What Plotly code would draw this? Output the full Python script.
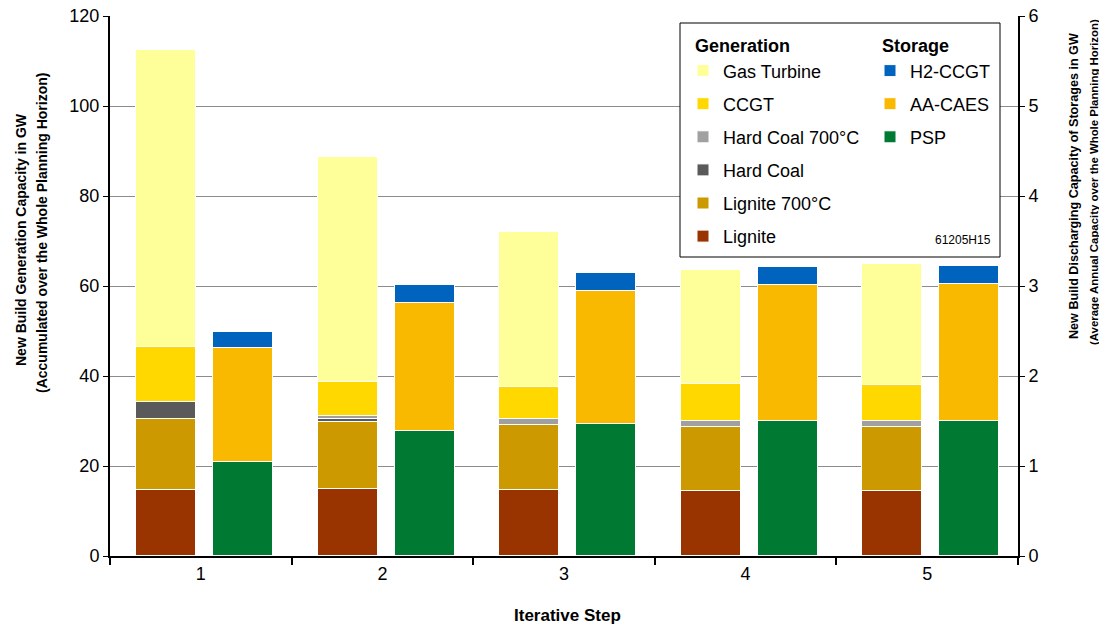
import plotly.graph_objects as go

steps = [1, 2, 3, 4, 5]

# Generation (left axis, GW)
lignite = [14.7, 14.9, 14.7, 14.5, 14.4]
lignite700 = [15.7, 14.8, 14.4, 14.2, 14.2]
hard_coal = [3.9, 0.7, None, None, None]
hard_coal700 = [None, 0.7, 1.3, 1.3, 1.3]
ccgt = [12.1, 7.5, 7.2, 8.2, 8.0]
gas_turbine = [66.0, 50.1, 34.4, 25.4, 27.0]

# Storage (right axis, GW)
psp = [1.05, 1.39, 1.47, 1.50, 1.50]
aa_caes = [1.26, 1.42, 1.48, 1.51, 1.52]
h2_ccgt = [0.18, 0.20, 0.20, 0.20, 0.20]

FONT = "Arial, Liberation Sans, sans-serif"

# (name, values, colour, legend rank)
gen_series = [
    ("Lignite", lignite, "#993300", 6),
    ("Lignite 700°C", lignite700, "#CC9900", 5),
    ("Hard Coal", hard_coal, "#5A5A5A", 4),
    ("Hard Coal 700°C", hard_coal700, "#A0A0A0", 3),
    ("CCGT", ccgt, "#FFD800", 2),
    ("Gas Turbine", gas_turbine, "#FFFF99", 1),
]
sto_series = [
    ("PSP", psp, "#007A33", 3),
    ("AA-CAES", aa_caes, "#F9B900", 2),
    ("H2-CCGT", h2_ccgt, "#0063BE", 1),
]

fig = go.Figure()
for name, vals, col, rank in gen_series:
    fig.add_trace(go.Bar(
        x=steps, y=vals, name=name, width=0.33, offset=-0.357,
        marker=dict(color=col, line=dict(color="white", width=1)),
        legend="legend", legendgroup=name, legendrank=rank, yaxis="y"))
for name, vals, col, rank in sto_series:
    fig.add_trace(go.Bar(
        x=steps, y=vals, name=name, width=0.33, offset=0.067,
        marker=dict(color=col, line=dict(color="white", width=1)),
        legend="legend2", legendgroup=name, legendrank=rank, yaxis="y2"))

# page body adds an 8px offset; figure is sized to fill the rest of the window
BODY = 8
FIG_W, FIG_H = 1107 - BODY, 628 - BODY
W0, W1, H0, H1 = 110, 1018, 16, 556  # plot area in screen pixels
def px(x):
    return (x - W0) / (W1 - W0)
def py(y):
    return (H1 - y) / (H1 - H0)

left_title_font = dict(family=FONT, size=14, color="black")
right_title_font1 = dict(family=FONT, size=12.6, color="black")
right_title_font2 = dict(family=FONT, size=11.4, color="black")

fig.update_layout(
    width=FIG_W, height=FIG_H,
    margin=dict(l=W0 - BODY, r=FIG_W - (W1 - BODY), t=H0 - BODY,
                b=FIG_H - (H1 - BODY), autoexpand=False),
    paper_bgcolor="white", plot_bgcolor="white",
    barmode="stack", bargap=0,
    font=dict(family=FONT, size=18, color="black"),
    xaxis=dict(
        range=[0.5, 5.5], tickvals=steps, ticktext=[str(s) for s in steps],
        ticks="", showline=True, linecolor="black", linewidth=2,
        showgrid=False, zeroline=False, automargin=False,
        minor=dict(tickvals=[0.5, 1.5, 2.5, 3.5, 4.5, 5.5], ticks="outside",
                   ticklen=7, tickwidth=2, tickcolor="black", showgrid=False),
        tickfont=dict(size=18), ticklabeloverflow="allow",
    ),
    yaxis=dict(
        range=[0, 120], dtick=20, ticks="outside", ticklen=5, tickwidth=1,
        tickcolor="black", showline=True, linecolor="black", linewidth=2,
        showgrid=True, gridcolor="#8C8C8C", gridwidth=1, zeroline=False,
        automargin=False, tickfont=dict(size=18), ticklabeloverflow="allow",
    ),
    yaxis2=dict(
        range=[0, 6], dtick=1, overlaying="y", side="right", anchor="x",
        ticks="outside", ticklen=5, tickwidth=1, tickcolor="black",
        showline=True, linecolor="black", linewidth=2,
        showgrid=False, zeroline=False, automargin=False,
        tickfont=dict(size=18), ticklabeloverflow="allow",
    ),
    legend=dict(
        x=px(683), y=py(29), xanchor="left", yanchor="top",
        bgcolor="rgba(0,0,0,0)", borderwidth=0,
        traceorder="grouped", tracegroupgap=6.7,
        font=dict(size=18),
        title=dict(text="&nbsp;&nbsp;<b>Generation</b>", font=dict(size=18)),
    ),
    legend2=dict(
        x=px(870), y=py(29), xanchor="left", yanchor="top",
        bgcolor="rgba(0,0,0,0)", borderwidth=0,
        traceorder="grouped", tracegroupgap=6.7,
        font=dict(size=18),
        title=dict(text="&nbsp;&nbsp;<b>Storage</b>", font=dict(size=18)),
    ),
    shapes=[dict(type="rect", xref="paper", yref="paper",
                 x0=px(680), x1=px(1000), y0=py(257), y1=py(23),
                 line=dict(color="black", width=1), fillcolor="white", layer="above")],
    annotations=[
        dict(text="61205H15", xref="paper", yref="paper",
             x=px(993), y=py(240), xanchor="right", yanchor="middle",
             showarrow=False, font=dict(size=12)),
        dict(text="<b>Iterative Step</b>", xref="paper", yref="paper",
             x=px(567), y=py(615), xanchor="center", yanchor="middle",
             showarrow=False, font=dict(family=FONT, size=17, color="black")),
        dict(text="<b>New Build Generation Capacity in GW</b>", xref="paper", yref="paper",
             x=px(21), y=py(240), xanchor="center", yanchor="middle", textangle=-90,
             showarrow=False, font=left_title_font),
        dict(text="<b>(Accumulated over the Whole Planning Horizon)</b>", xref="paper", yref="paper",
             x=px(42), y=py(233), xanchor="center", yanchor="middle", textangle=-90,
             showarrow=False, font=left_title_font),
        dict(text="<b>New Build Discharging Capacity of Storages in GW</b>", xref="paper", yref="paper",
             x=px(1074), y=py(186), xanchor="center", yanchor="middle", textangle=-90,
             showarrow=False, font=right_title_font1),
        dict(text="<b>(Average Annual Capacity over the Whole Planning Horizon)</b>", xref="paper", yref="paper",
             x=px(1094), y=py(182), xanchor="center", yanchor="middle", textangle=-90,
             showarrow=False, font=right_title_font2),
    ],
)

fig.write_html("out.html")
